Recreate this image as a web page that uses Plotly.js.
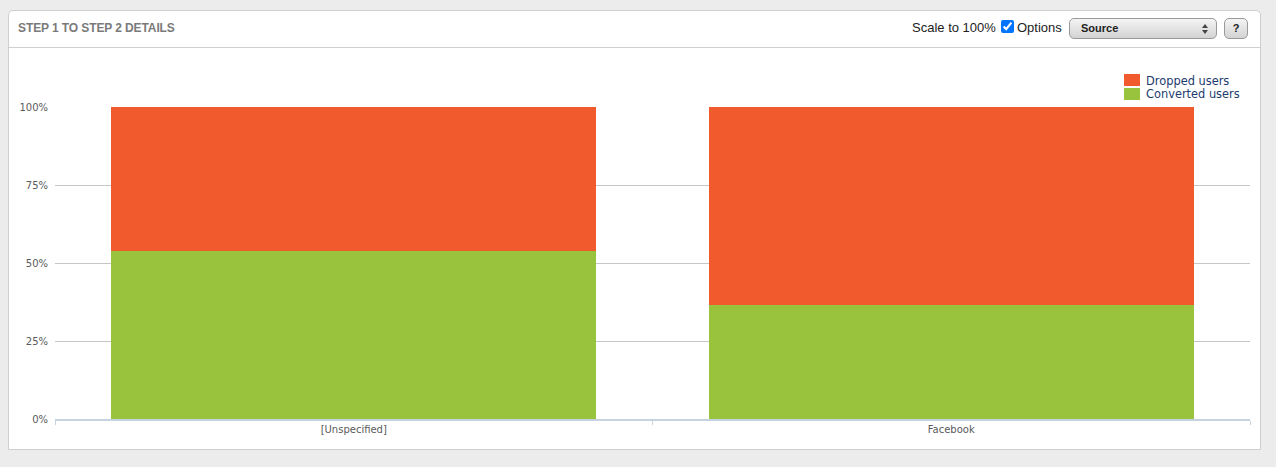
<!DOCTYPE html>
<html>
<head>
<meta charset="utf-8">
<script src="https://cdn.plot.ly/plotly-3.0.1.min.js"></script>
<style>
  html, body { margin: 0; padding: 0; background: #ececec; width: 1276px; height: 467px; overflow: hidden; }
  #panel { position: absolute; left: 8px; top: 10px; width: 1253px; height: 440px; background: #fff;
           border: 1px solid #cfcfcf; border-radius: 5px 5px 0 0; box-sizing: border-box; }
  #header { position: absolute; left: 0; top: 0; right: 0; height: 36px; border-bottom: 1px solid #cfcfcf; }
  #title { position: absolute; left: 9px; top: 10px; font: bold 12px "Liberation Sans", Arial, sans-serif; color: #7a7a7a; letter-spacing: -0.1px; }
  #scale { position: absolute; left: 903px; top: 9px; font: 13px "Liberation Sans", Arial, sans-serif; color: #222; }
  #cb { position: absolute; left: 992px; top: 9px; width: 13px; height: 13px; margin: 0; }
  #opts { position: absolute; left: 1008px; top: 9px; font: 13px "Liberation Sans", Arial, sans-serif; color: #222; }
  #sel { position: absolute; left: 1060px; top: 7px; width: 148px; height: 21px; box-sizing: border-box;
         border: 1px solid #9a9a9a; border-radius: 5px; background: linear-gradient(#f4f4f4, #d3d3d3); }
  #sel span.t { position: absolute; left: 11px; top: 3px; font: bold 11px "Liberation Sans", Arial, sans-serif; color: #222; }
  #sel i.up { position: absolute; right: 8px; top: 5px; width: 0; height: 0;
              border-left: 3px solid transparent; border-right: 3px solid transparent; border-bottom: 4px solid #444; }
  #sel i.dn { position: absolute; right: 8px; top: 11px; width: 0; height: 0;
              border-left: 3px solid transparent; border-right: 3px solid transparent; border-top: 4px solid #444; }
  #help { position: absolute; left: 1215px; top: 7px; width: 24px; height: 21px; box-sizing: border-box;
          border: 1px solid #9a9a9a; border-radius: 5px; background: linear-gradient(#f4f4f4, #d3d3d3);
          font: bold 11px "Liberation Sans", Arial, sans-serif; color: #222; text-align: center; line-height: 19px; }
  #chart { position: absolute; left: 0; top: 0; width: 1276px; height: 467px; }
</style>
</head>
<body>
<div id="panel">
  <div id="header">
    <div id="title">STEP 1 TO STEP 2 DETAILS</div>
    <div id="scale">Scale to 100%</div>
    <input id="cb" type="checkbox" checked>
    <div id="opts">Options</div>
    <div id="sel"><span class="t">Source</span><i class="up"></i><i class="dn"></i></div>
    <div id="help">?</div>
  </div>
</div>
<div id="chart"></div>
<script>
const categories = ['[Unspecified]', 'Facebook'];
const convertedUsers = [53.8, 36.5];
const droppedUsers = [46.2, 63.5];
const yTickValues = [0, 25, 50, 75, 100];
const yTickLabels = ['0%', '25%', '50%', '75%', '100%'];
const seriesNames = ['Dropped users', 'Converted users'];
const seriesColors = ['#f15a2c', '#9ac33d'];

const traces = [
  { type: 'bar', name: seriesNames[1], x: categories, y: convertedUsers,
    marker: { color: seriesColors[1], line: { width: 0 } }, hoverinfo: 'skip' },
  { type: 'bar', name: seriesNames[0], x: categories, y: droppedUsers,
    marker: { color: seriesColors[0], line: { width: 0 } }, hoverinfo: 'skip' }
];

// Legend drawn in paper coordinates (plot area: x 55..1250 px, y 107..419 px)
const W = 1195, H = 312;
const px = v => (v - 55) / W;
const py = v => (419 - v) / H;
const legendShapes = [], legendAnnotations = [];
seriesNames.forEach((name, i) => {
  const top = 74 + i * 14;
  legendShapes.push({
    type: 'rect', xref: 'paper', yref: 'paper',
    x0: px(1124), x1: px(1140), y0: py(top), y1: py(top + 12),
    fillcolor: seriesColors[i], line: { width: 0 }
  });
  legendAnnotations.push({
    xref: 'paper', yref: 'paper', x: px(1144), y: py(top + 6.5),
    xanchor: 'left', yanchor: 'middle', showarrow: false, text: name,
    font: { family: 'DejaVu Sans, sans-serif', size: 11.4, color: '#1d3c6e' }
  });
});

const layout = {
  width: 1276, height: 467,
  margin: { l: 55, r: 26, t: 107, b: 48, pad: 0 },
  paper_bgcolor: 'rgba(0,0,0,0)', plot_bgcolor: 'rgba(0,0,0,0)',
  barmode: 'stack', bargap: 0.188,
  font: { family: 'DejaVu Sans, sans-serif', size: 10, color: '#5a5a5a' },
  xaxis: {
    type: 'category', showgrid: false, zeroline: false,
    showline: true, linecolor: '#c5d2e0', linewidth: 2,
    ticks: 'outside', tickson: 'boundaries', tickcolor: '#c5d2e0', ticklen: 4, tickwidth: 1,
    tickfont: { size: 10, color: '#5a5a5a' }, fixedrange: true
  },
  yaxis: {
    range: [0, 100], tickvals: yTickValues, ticktext: yTickLabels,
    showgrid: true, gridcolor: '#c6c6c6', gridwidth: 1, zeroline: false, showline: false,
    ticks: '', ticklabelstandoff: 6, tickfont: { size: 10, color: '#5a5a5a' }, fixedrange: true
  },
  showlegend: false,
  shapes: legendShapes,
  annotations: legendAnnotations
};

Plotly.newPlot('chart', traces, layout, { displayModeBar: false, staticPlot: true });
</script>
</body>
</html>
